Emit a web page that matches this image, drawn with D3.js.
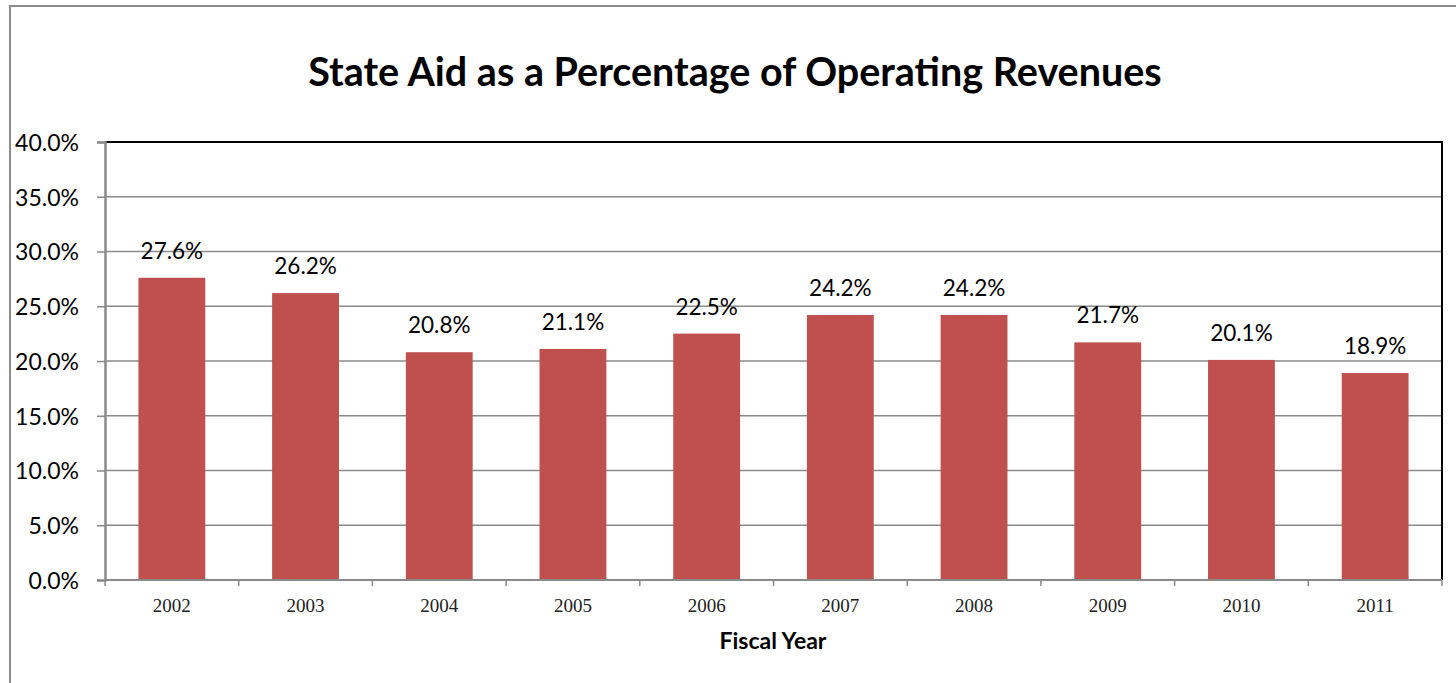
<!DOCTYPE html>
<html>
<head>
<meta charset="utf-8">
<script src="https://cdn.jsdelivr.net/npm/d3@7"></script>
<style>
  html, body { margin: 0; padding: 0; background: #fff; }
  svg { display: block; }
</style>
</head>
<body>
<svg id="chart" width="1456" height="683"></svg>
<script>
// Fiscal years and state aid share of operating revenues (%)
const years = ["2002", "2003", "2004", "2005", "2006", "2007", "2008", "2009", "2010", "2011"];
const stateAidPct = [27.6, 26.2, 20.8, 21.1, 22.5, 24.2, 24.2, 21.7, 20.1, 18.9];
const yTicks = [0, 5, 10, 15, 20, 25, 30, 35, 40];

const svg = d3.select("#chart");
const W = 1456, H = 683;
const plot = { left: 105, top: 142, right: 1442, bottom: 580 };
const sans = "Lato, 'Open Sans', sans-serif";
const serif = "'Liberation Serif', 'DejaVu Serif', serif";

// chart area frame
svg.append("rect")
  .attr("x", 10).attr("y", 6)
  .attr("width", W + 10).attr("height", H + 10)
  .attr("fill", "#fff").attr("stroke", "#8c8c8c").attr("stroke-width", 2);

const x = d3.scaleBand().domain(years).range([plot.left, plot.right]).paddingInner(0.5).paddingOuter(0.25);
const y = d3.scaleLinear().domain([0, 40]).range([plot.bottom, plot.top]);

// gridlines
svg.append("g")
  .selectAll("line")
  .data(yTicks.filter(t => t > 0 && t < 40))
  .join("line")
  .attr("x1", plot.left).attr("x2", plot.right)
  .attr("y1", d => y(d)).attr("y2", d => y(d))
  .attr("stroke", "#8a8a8a").attr("stroke-width", 1.5);

// bars
svg.append("g")
  .selectAll("rect")
  .data(years)
  .join("rect")
  .attr("x", d => x(d))
  .attr("width", x.bandwidth())
  .attr("y", (d, i) => y(stateAidPct[i]))
  .attr("height", (d, i) => y(0) - y(stateAidPct[i]))
  .attr("fill", "#C0504D");

// value labels
svg.append("g")
  .selectAll("text")
  .data(years)
  .join("text")
  .attr("x", d => x(d) + x.bandwidth() / 2)
  .attr("y", (d, i) => y(stateAidPct[i]) - 19)
  .attr("text-anchor", "middle")
  .attr("font-family", sans)
  .attr("font-size", 22.5)
  .attr("fill", "#000")
  .text((d, i) => stateAidPct[i].toFixed(1) + "%");

// plot border (top and right)
svg.append("path")
  .attr("d", `M${plot.left},${plot.top}H${plot.right}V${plot.bottom}`)
  .attr("fill", "none").attr("stroke", "#000").attr("stroke-width", 2);

// y axis
const yAxis = d3.axisLeft(y).tickValues(yTicks).tickSize(8)
  .tickFormat(d => d.toFixed(1) + "%");
const gy = svg.append("g").attr("transform", `translate(${plot.left},0)`).call(yAxis);
gy.select(".domain").attr("stroke", "#8a8a8a").attr("stroke-width", 2.5);
gy.selectAll(".tick line").attr("stroke", "#8a8a8a").attr("stroke-width", 1.5);
gy.selectAll(".tick text")
  .attr("font-family", sans).attr("font-size", 23).attr("fill", "#000")
  .attr("text-anchor", "end").attr("x", -26).attr("dy", "0.36em");

// x axis with ticks at category boundaries
const gx = svg.append("g").attr("transform", `translate(0,${plot.bottom})`);
gx.append("line")
  .attr("x1", plot.left).attr("x2", plot.right)
  .attr("stroke", "#8a8a8a").attr("stroke-width", 2);
const step = x.step();
gx.selectAll("line.tk")
  .data(d3.range(years.length + 1))
  .join("line")
  .attr("class", "tk")
  .attr("x1", i => plot.left + i * step).attr("x2", i => plot.left + i * step)
  .attr("y1", 0).attr("y2", 6)
  .attr("stroke", "#8a8a8a").attr("stroke-width", 1.5);
gx.selectAll("text")
  .data(years)
  .join("text")
  .attr("x", d => x(d) + x.bandwidth() / 2)
  .attr("y", 32)
  .attr("text-anchor", "middle")
  .attr("font-family", serif)
  .attr("font-size", 19)
  .attr("fill", "#222")
  .text(d => d);

// title
svg.append("text")
  .attr("x", 735).attr("y", 86)
  .attr("text-anchor", "middle")
  .attr("font-family", sans).attr("font-weight", "bold").attr("font-size", 39.5)
  .attr("fill", "#000")
  .text("State Aid as a Percentage of Operating Revenues");

// x axis title
svg.append("text")
  .attr("x", 773).attr("y", 649)
  .attr("text-anchor", "middle")
  .attr("font-family", sans).attr("font-weight", "bold").attr("font-size", 23)
  .attr("fill", "#000")
  .text("Fiscal Year");
</script>
</body>
</html>
